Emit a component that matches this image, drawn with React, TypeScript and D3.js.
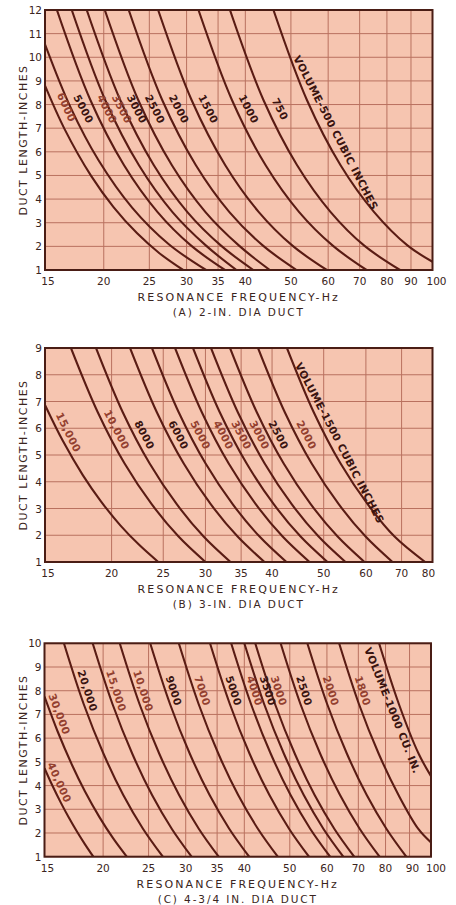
import React from 'react';
import * as d3 from 'd3';

type Pt = [number, number];

// ---------------- (A) 2-IN. DIA DUCT ----------------
const freqTicksA = [15, 20, 25, 30, 35, 40, 50, 60, 70, 80, 90, 100];
const lengthTicksA = [1, 2, 3, 4, 5, 6, 7, 8, 9, 10, 11, 12];
const volumesA = ['6000', '5000', '4000', '3500', '3000', '2500', '2000', '1500', '1000', '750', 'VOLUME-500 CUBIC INCHES'];
const curvesA: Pt[][] = [
  [[15, 8.8], [16.5, 6.97], [18.8, 4.98], [21, 3.65], [23.55, 2.55], [26.3, 1.7], [29.5, 1]],
  [[15, 10.55], [17, 7.88], [19.51, 5.63], [23, 3.63], [27.5, 2.09], [33, 1]],
  [[15.9, 12], [18.74, 8.18], [22.09, 5.43], [26.03, 3.45], [30.68, 2.03], [36.2, 1]],
  [[17.1, 12], [20.15, 8.18], [23.76, 5.43], [28.0, 3.45], [33.0, 2.03], [38.3, 1]],
  [[18.4, 12], [21.69, 8.18], [25.56, 5.43], [30.12, 3.45], [35.51, 2.03], [41.6, 1]],
  [[20.1, 12], [23.69, 8.18], [27.92, 5.43], [32.91, 3.45], [38.79, 2.03], [45.1, 1]],
  [[22.6, 12], [26.64, 8.18], [31.4, 5.43], [37.0, 3.45], [43.61, 2.03], [51.4, 1]],
  [[26.1, 12], [30.76, 8.18], [36.26, 5.43], [42.73, 3.45], [50.37, 2.03], [59.6, 1]],
  [[31.8, 12], [37.48, 8.18], [44.18, 5.43], [52.06, 3.45], [61.37, 2.03], [72.4, 1]],
  [[37.1, 12], [43.73, 8.18], [51.54, 5.43], [60.74, 3.45], [71.6, 2.03], [85.3, 1]],
  [[45.9, 12], [54.1, 8.18], [63.76, 5.43], [75.15, 3.45], [88.58, 2.03], [100, 1.35]],
];

// ---------------- (B) 3-IN. DIA DUCT ----------------
const freqTicksB = [15, 20, 25, 30, 35, 40, 50, 60, 70, 80];
const lengthTicksB = [1, 2, 3, 4, 5, 6, 7, 8, 9];
const volumesB = ['15,000', '10,000', '8000', '6000', '5000', '4000', '3500', '3000', '2500', '2000', 'VOLUME-1500 CUBIC INCHES'];
const curvesB: Pt[][] = [
  [[15, 6.87], [16.2, 5.53], [17.66, 4.25], [19.1, 3.27], [20.79, 2.36], [22.5, 1.65], [24.47, 1]],
  [[16.78, 9], [18.85, 6.59], [21.17, 4.67], [23.78, 3.16], [26.71, 1.95], [30.0, 1]],
  [[18.7, 9], [21.0, 6.59], [23.59, 4.67], [26.5, 3.16], [29.76, 1.95], [33.43, 1]],
  [[21.66, 9], [24.33, 6.59], [27.33, 4.67], [30.69, 3.16], [34.47, 1.95], [38.72, 1]],
  [[23.81, 9], [26.74, 6.59], [30.04, 4.67], [33.74, 3.16], [37.9, 1.95], [42.57, 1]],
  [[26.31, 9], [29.55, 6.59], [33.19, 4.67], [37.28, 3.16], [41.87, 1.95], [47.03, 1]],
  [[28.43, 9], [31.93, 6.59], [35.87, 4.67], [40.29, 3.16], [45.25, 1.95], [50.82, 1]],
  [[30.73, 9], [34.52, 6.59], [38.77, 4.67], [43.54, 3.16], [48.91, 1.95], [54.94, 1]],
  [[33.36, 9], [37.47, 6.59], [42.09, 4.67], [47.27, 3.16], [53.1, 1.95], [59.64, 1]],
  [[37.65, 9], [42.29, 6.59], [47.5, 4.67], [53.35, 3.16], [59.92, 1.95], [67.31, 1]],
  [[42.66, 9], [47.92, 6.59], [53.82, 4.67], [60.45, 3.16], [67.9, 1.95], [77.5, 1]],
];

// ---------------- (C) 4-3/4 IN. DIA DUCT ----------------
const freqTicksC = [15, 20, 25, 30, 35, 40, 50, 60, 70, 80, 90, 100];
const lengthTicksC = [1, 2, 3, 4, 5, 6, 7, 8, 9, 10];
const volumesC = ['40,000', '30,000', '20,000', '15,000', '10,000', '9000', '7000', '5000', '4000', '3500', '3000', '2500', '2000', '1800', 'VOLUME-1000 CU. IN.'];
const curvesC: Pt[][] = [
  [[15, 4.73], [15.6, 3.99], [16.25, 3.28], [16.9, 2.65], [17.6, 2.05], [18.3, 1.52], [19.06, 1]],
  [[15, 7.75], [16, 6.28], [17.16, 4.88], [18.3, 3.75], [19.63, 2.68], [21, 1.78], [22.46, 1]],
  [[16.5, 10], [18.18, 7.44], [20.04, 5.34], [22.08, 3.6], [24.34, 2.17], [26.82, 1]],
  [[19.0, 10], [20.94, 7.44], [23.08, 5.34], [25.43, 3.6], [28.03, 2.17], [30.88, 1]],
  [[21.7, 10], [23.91, 7.44], [26.35, 5.34], [29.04, 3.6], [32.01, 2.17], [35.27, 1]],
  [[25.2, 10], [27.77, 7.44], [30.61, 5.34], [33.73, 3.6], [37.17, 2.17], [40.96, 1]],
  [[29.0, 10], [31.96, 7.44], [35.22, 5.34], [38.81, 3.6], [42.78, 2.17], [47.14, 1]],
  [[33.8, 10], [37.25, 7.44], [41.05, 5.34], [45.24, 3.6], [49.86, 2.17], [54.94, 1]],
  [[37.5, 10], [41.33, 7.44], [45.54, 5.34], [50.19, 3.6], [55.31, 2.17], [60.95, 1]],
  [[40.0, 10], [44.08, 7.44], [48.58, 5.34], [53.54, 3.6], [59.0, 2.17], [65.02, 1]],
  [[42.2, 10], [46.5, 7.44], [51.25, 5.34], [56.48, 3.6], [62.25, 2.17], [68.59, 1]],
  [[47.8, 10], [52.68, 7.44], [58.05, 5.34], [63.98, 3.6], [70.51, 2.17], [77.69, 1]],
  [[54.5, 10], [60.06, 7.44], [66.19, 5.34], [72.94, 3.6], [80.39, 2.17], [88.58, 1]],
  [[63.7, 10], [70.2, 7.44], [77.36, 5.34], [85.26, 3.6], [93.96, 2.17], [100, 1.6]],
  [[77.5, 10], [85.4, 7.44], [94.12, 5.34], [100, 4.4]],
];

// ---------------- styling ----------------
const BG = '#f6c5b0';
const GRID = '#b9715f';
const FRAME = '#4a1d15';
const CURVE = '#5a1c14';
const TEXT = '#3a2420';
const LABEL_DARK = '#3a1410';
const LABEL_RED = '#93402f';
const FONT = '"DejaVu Sans", "Liberation Sans", sans-serif';

interface PanelSpec {
  id: string;
  x0: number; x1: number; yTop: number; yBot: number;
  fMax: number; lMax: number;
  freqTicks: number[]; lengthTicks: number[];
  curves: Pt[][]; names: string[];
  dark: boolean[]; labelL: number[]; side: number[]; offset: number;
  caption: string;
  tickDx: Record<number, number>;
}

function labelPlacement(pts: [number, number][], yL: number) {
  for (let i = 0; i < pts.length - 1; i++) {
    const a = pts[i], b = pts[i + 1];
    if ((a[1] - yL) * (b[1] - yL) <= 0) {
      const t = b[1] === a[1] ? 0 : (yL - a[1]) / (b[1] - a[1]);
      return { x: a[0] + t * (b[0] - a[0]), y: yL, ang: Math.atan2(b[1] - a[1], b[0] - a[0]) };
    }
  }
  const a = pts[0], b = pts[1];
  return { x: a[0], y: a[1], ang: Math.atan2(b[1] - a[1], b[0] - a[0]) };
}

function Panel({ s }: { s: PanelSpec }) {
  const x = d3.scaleLog().domain([15, s.fMax]).range([s.x0, s.x1]);
  const y = d3.scaleLinear().domain([1, s.lMax]).range([s.yBot, s.yTop]);
  const line = d3.line<Pt>().x(d => x(d[0])).y(d => y(d[1])).curve(d3.curveCatmullRom.alpha(0.5));
  const clipId = `clip-${s.id}`;
  const cx = (s.x0 + s.x1) / 2;
  const cy = (s.yTop + s.yBot) / 2;
  return (
    <g>
      <defs>
        <clipPath id={clipId}>
          <rect x={s.x0} y={s.yTop} width={s.x1 - s.x0} height={s.yBot - s.yTop} />
        </clipPath>
      </defs>
      <rect x={s.x0} y={s.yTop} width={s.x1 - s.x0} height={s.yBot - s.yTop} fill={BG} />
      {s.lengthTicks.map(t => (
        <line key={'h' + t} x1={s.x0} x2={s.x1} y1={y(t)} y2={y(t)} stroke={GRID} strokeWidth={1} />
      ))}
      {s.freqTicks.map(t => (
        <line key={'v' + t} x1={x(t)} x2={x(t)} y1={s.yTop} y2={s.yBot} stroke={GRID} strokeWidth={1} />
      ))}
      <g clipPath={`url(#${clipId})`}>
        {s.curves.map((c, i) => (
          <path key={'c' + i} d={line(c) || ''} fill="none" stroke={CURVE} strokeWidth={2.1} />
        ))}
      </g>
      {s.curves.map((c, i) => {
        const pts = c.map(d => [x(d[0]), y(d[1])] as [number, number]);
        const p = labelPlacement(pts, y(s.labelL[i]));
        const off = s.offset * s.side[i];
        const lx = p.x + off * Math.sin(p.ang);
        const ly = p.y - off * Math.cos(p.ang);
        const deg = (p.ang * 180) / Math.PI;
        return (
          <text key={'l' + i} x={lx} y={ly} transform={`rotate(${deg},${lx},${ly})`}
            textAnchor="middle" dominantBaseline="central" fontFamily={FONT}
            fontWeight="bold" fontSize={10.5} letterSpacing={0.4}
            fill={s.dark[i] ? LABEL_DARK : LABEL_RED}>
            {s.names[i]}
          </text>
        );
      })}
      <rect x={s.x0} y={s.yTop} width={s.x1 - s.x0} height={s.yBot - s.yTop} fill="none" stroke={FRAME} strokeWidth={2} />
      {s.lengthTicks.map(t => (
        <text key={'yl' + t} x={s.x0 - 3} y={y(t)} textAnchor="end" dominantBaseline="central"
          fontFamily={FONT} fontSize={10.5} fill={TEXT}>{t}</text>
      ))}
      {s.freqTicks.map(t => (
        <text key={'xl' + t} x={x(t) + (s.tickDx[t] || 0)} y={s.yBot + 15} textAnchor="middle"
          fontFamily={FONT} fontSize={10.5} fill={TEXT}>{t}</text>
      ))}
      <text x={23} y={cy} transform={`rotate(-90,23,${cy})`} textAnchor="middle" dominantBaseline="central"
        fontFamily={FONT} fontSize={11} letterSpacing={1.5} fill={TEXT}>DUCT LENGTH-INCHES</text>
      <text x={cx} y={s.yBot + 31} textAnchor="middle" fontFamily={FONT} fontSize={11}
        letterSpacing={2.1} fill={TEXT}>RESONANCE FREQUENCY-Hz</text>
      <text x={cx} y={s.yBot + 46} textAnchor="middle" fontFamily={FONT} fontSize={10.5}
        letterSpacing={1.9} fill={TEXT}>{s.caption}</text>
    </g>
  );
}

export default function App() {
  const panels: PanelSpec[] = [
    {
      id: 'a', x0: 45, x1: 432.5, yTop: 10, yBot: 270, fMax: 100, lMax: 12,
      freqTicks: freqTicksA, lengthTicks: lengthTicksA, curves: curvesA, names: volumesA,
      dark: [false, true, false, false, true, true, true, true, true, true, true],
      labelL: [7.7, 7.6, 7.6, 7.6, 7.6, 7.6, 7.6, 7.6, 7.6, 7.6, 6.6],
      side: volumesA.map(() => 1), offset: 11,
      caption: '(A) 2-IN. DIA DUCT', tickDx: { 15: 3, 100: 4 },
    },
    {
      id: 'b', x0: 45, x1: 432.5, yTop: 348, yBot: 562, fMax: 80, lMax: 9,
      freqTicks: freqTicksB, lengthTicks: lengthTicksB, curves: curvesB, names: volumesB,
      dark: [false, false, true, true, false, false, false, false, true, false, true],
      labelL: [5.7, 5.8, 5.6, 5.6, 5.6, 5.6, 5.6, 5.6, 5.6, 5.6, 5.3],
      side: volumesB.map(() => 1), offset: 9,
      caption: '(B) 3-IN. DIA DUCT', tickDx: { 15: 3, 80: -4 },
    },
    {
      id: 'c', x0: 44.5, x1: 431, yTop: 643.3, yBot: 856.7, fMax: 100, lMax: 10,
      freqTicks: freqTicksC, lengthTicks: lengthTicksC, curves: curvesC, names: volumesC,
      dark: [false, false, true, false, false, true, false, true, false, true, false, true, false, false, true],
      labelL: [4.0, 6.9, 7.9, 7.9, 7.9, 7.9, 7.9, 7.9, 7.9, 7.9, 7.9, 7.9, 7.9, 7.9, 7.3],
      side: volumesC.map((_, i) => (i === volumesC.length - 1 ? -1 : 1)), offset: 8,
      caption: '(C) 4-3/4 IN. DIA DUCT', tickDx: { 15: 3, 90: 3, 100: 5 },
    },
  ];
  return (
    <svg width={456} height={905} style={{ position: 'absolute', left: 0, top: 0, background: '#ffffff' }}>
      <rect x={0} y={0} width={456} height={905} fill="#ffffff" />
      {panels.map(p => <Panel key={p.id} s={p} />)}
    </svg>
  );
}
